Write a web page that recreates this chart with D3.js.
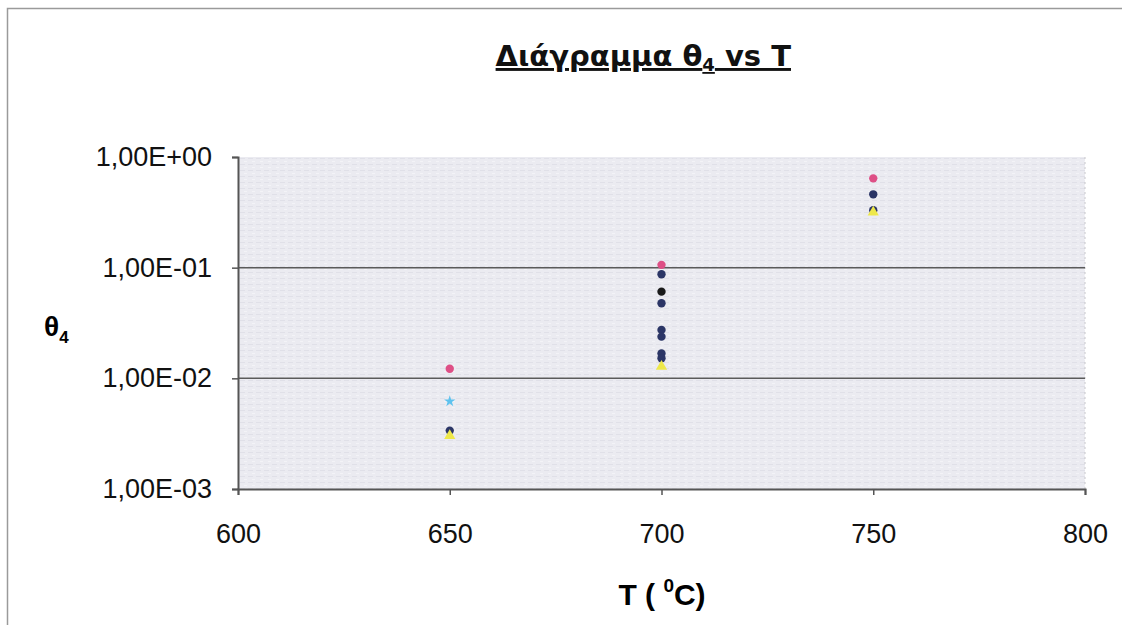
<!DOCTYPE html>
<html><head><meta charset="utf-8">
<script src="https://cdn.jsdelivr.net/npm/d3@7"></script>
<style>body{margin:0;background:#fff}svg{display:block}text{font-family:Arial,"Liberation Sans",sans-serif}</style>
</head><body>
<svg id="c" width="1122" height="625"></svg>
<script>
const xTicks = [600, 650, 700, 750, 800];
const yTicks = [1, 0.1, 0.01, 0.001];
const yTickLabels = ["1,00E+00", "1,00E-01", "1,00E-02", "1,00E-03"];
const seriesNames = ["dark", "pink", "yellow", "cyan", "black"];
const seriesColors = ["#2b3566", "#de4f86", "#eee84a", "#5ec2ee", "#1a1a1a"];
const darkT = [650, 700, 700, 700, 700, 700, 700, 750, 750];
const darkV = [0.00337, 0.0871, 0.0477, 0.0274, 0.0238, 0.0168, 0.0152, 0.46, 0.33];
const pinkT = [650, 700, 750];
const pinkV = [0.0122, 0.106, 0.641];
const yellowT = [650, 700, 750];
const yellowV = [0.00303, 0.0128, 0.316];
const cyanT = [650];
const cyanV = [0.0062];
const blackT = [700];
const blackV = [0.0607];

const svg = d3.select("#c");
const L = 238, R = 1085, T = 157, B = 489;
const x = d3.scaleLinear().domain([600, 800]).range([L, R]);
const y = d3.scaleLog().domain([0.001, 1]).range([B, T]);

// outer border
svg.append("path").attr("d", "M7.5,625 V8.5 H1122").attr("fill", "none").attr("stroke", "#9a9a9a").attr("stroke-width", 1.5);

// plot area with texture
const defs = svg.append("defs");
const pat = defs.append("pattern").attr("id", "tex").attr("width", 8).attr("height", 6).attr("patternUnits", "userSpaceOnUse");
pat.append("rect").attr("width", 8).attr("height", 6).attr("fill", "#ebebf1");
pat.append("rect").attr("x", 0).attr("y", 2).attr("width", 5).attr("height", 1).attr("fill", "#e0e0e8");
pat.append("rect").attr("x", 4).attr("y", 5).attr("width", 3).attr("height", 1).attr("fill", "#f3f3f7");
svg.append("rect").attr("x", L).attr("y", T).attr("width", R - L).attr("height", B - T).attr("fill", "url(#tex)");
svg.append("line").attr("x1", R).attr("x2", R).attr("y1", T).attr("y2", B).attr("stroke", "#c8c8cc").attr("stroke-dasharray", "2,3");

// gridlines
svg.append("g").selectAll("line").data([0.1, 0.01]).join("line")
  .attr("x1", L).attr("x2", R).attr("y1", d => y(d)).attr("y2", d => y(d))
  .attr("stroke", "#5a5a5a").attr("stroke-width", 1.5);

// axes
const yAxis = d3.axisLeft(y).tickValues(yTicks).tickSize(6).tickPadding(20)
  .tickFormat((d, i) => yTickLabels[i]);
const gy = svg.append("g").attr("transform", `translate(${L},0)`).call(yAxis);
gy.select(".domain").attr("stroke", "#555").attr("stroke-width", 2);
gy.selectAll(".tick line").attr("stroke", "#555").attr("stroke-width", 1.5);
gy.selectAll("text").attr("font-size", 27).attr("fill", "#111");

const xAxis = d3.axisBottom(x).tickValues(xTicks).tickSize(6).tickPadding(29).tickFormat(d3.format("d"));
const gx = svg.append("g").attr("transform", `translate(0,${B})`).call(xAxis);
gx.select(".domain").attr("stroke", "#555").attr("stroke-width", 2);
gx.selectAll(".tick line").attr("stroke", "#555").attr("stroke-width", 1.5);
gx.selectAll("text").attr("font-size", 27).attr("fill", "#111");

// points
const sets = [
  [darkT, darkV, 0], [cyanT, cyanV, 3], [blackT, blackV, 4], [yellowT, yellowV, 2], [pinkT, pinkV, 1]
];
const sym = [d3.symbolCircle, d3.symbolCircle, d3.symbolTriangle, d3.symbolStar, d3.symbolCircle];
sets.forEach(([ts, vs, k]) => {
  svg.append("g").selectAll("path").data(ts.map((t, i) => [t, vs[i]])).join("path")
    .attr("transform", d => `translate(${x(d[0])},${y(d[1])})`)
    .attr("d", d3.symbol().type(sym[k]).size(k === 3 ? 40 : 55))
    .attr("fill", seriesColors[k]);
});

// title
svg.append("text").attr("x", 791).attr("y", 66).attr("text-anchor", "end")
  .style("font-family", "'DejaVu Sans', Verdana, sans-serif")
  .attr("font-size", 29).attr("font-weight", "bold").attr("text-decoration", "underline").attr("fill", "#111")
  .html('Διάγραμμα θ<tspan font-size="18" dy="5">4</tspan><tspan dy="-5"> vs T</tspan>');

// y title
svg.append("text").attr("x", 44).attr("y", 336).attr("font-size", 28).attr("font-weight", "bold")
  .html('θ<tspan font-size="17" dy="7">4</tspan>');

// x title
svg.append("text").attr("x", 662).attr("y", 605).attr("text-anchor", "middle").attr("font-size", 30).attr("font-weight", "bold")
  .html('T ( <tspan font-size="19" dy="-13">0</tspan><tspan dy="13">C)</tspan>');
</script>
</body></html>
